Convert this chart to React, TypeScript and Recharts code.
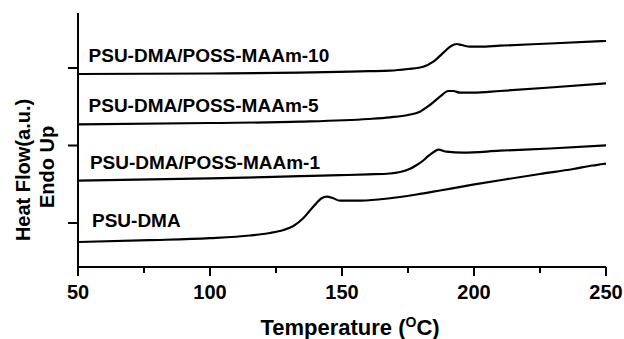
import { Label, Line, LineChart, ReferenceDot, XAxis, YAxis } from "recharts";

// temperatures in °C, heat flow in arbitrary units (endo up)
const psuDmaTemp = [50, 77, 100, 115.2, 122.7, 127.8, 131.6, 135.3, 139.1, 142.3, 144.2, 146.7, 149.2, 155.6, 163.8, 172, 178.3, 187.1, 199.6, 212.4, 225, 237.6, 245, 248.9, 250];
const psuDmaHeat = [25, 26.8, 28.8, 31.5, 34, 37, 41, 48.7, 60.3, 68.7, 70.3, 68.7, 66.3, 66.3, 67.5, 70, 72.5, 76.5, 82.3, 87.8, 93, 98, 101.5, 103, 103.5];

const maam1Temp = [50, 100, 134, 149.2, 160, 168.2, 172, 175.8, 178, 180.8, 182.6, 184.6, 186.5, 189.6, 195.9, 209.8, 228.8, 250];
const maam1Heat = [86.3, 88.6, 90.8, 91.8, 92.6, 93.5, 95, 98.3, 101.5, 106.5, 110.8, 114.8, 117.3, 115.3, 114.3, 116.3, 118.5, 121.7];

const maam5Temp = [50, 100, 134, 160, 168.2, 175, 179.5, 183.3, 187.1, 190.3, 192.2, 194.7, 199.7, 209.8, 228.8, 250];
const maam5Heat = [142.7, 144, 145.3, 148, 149.7, 152, 155.3, 162, 170.3, 176, 176, 174.3, 174.3, 176, 179.5, 183.7];

const maam10Temp = [50, 100, 134, 160, 168.2, 175, 180.8, 184.6, 188.4, 191.5, 193.4, 195.3, 198.5, 202.3, 209.8, 228.8, 250];
const maam10Heat = [193, 193.5, 194.3, 195.8, 196.3, 198, 200.3, 205.3, 214.3, 221.3, 223, 222, 220.3, 220.3, 221.3, 223.5, 226];

const seriesNames = ["PSU-DMA", "PSU-DMA/POSS-MAAm-1", "PSU-DMA/POSS-MAAm-5", "PSU-DMA/POSS-MAAm-10"];
const labelTemp = [55.3, 54.5, 54, 54];
const labelHeat = [40.3, 97.7, 155.3, 205.3];

const xTicks = [50, 75, 100, 125, 150, 175, 200, 225, 250];
const xLabelled = [50, 100, 150, 200, 250];
const yTicks = [44, 121.5, 199];

const font = "'Liberation Sans', Arial, sans-serif";

const toRows = (t: number[], h: number[]) => t.map((x, i) => ({ x, y: h[i] }));

const series = [
  toRows(psuDmaTemp, psuDmaHeat),
  toRows(maam1Temp, maam1Heat),
  toRows(maam5Temp, maam5Heat),
  toRows(maam10Temp, maam10Heat),
];

const curveLabel = (text: string) => (props: any) => {
  const vb = props.viewBox || {};
  const x = (vb.x ?? 0) + (vb.width ?? 0) / 2;
  const y = (vb.y ?? 0) + (vb.height ?? 0) / 2;
  return (
    <text x={x} y={y} fill="#000" fontSize={19} fontWeight="bold" fontFamily={font}>
      {text}
    </text>
  );
};

// major ticks labelled and 9px long, minor ticks 6px without label
const XTick = (props: any) => {
  const { x, y, payload } = props;
  const major = xLabelled.includes(payload.value);
  return (
    <g>
      <line x1={x} x2={x} y1={y} y2={y + (major ? 9 : 6)} stroke="#000" strokeWidth={2} />
      {major ? (
        <text x={x} y={y + 32} textAnchor="middle" fill="#000" fontSize={20} fontWeight="bold" fontFamily={font}>
          {payload.value}
        </text>
      ) : null}
    </g>
  );
};

const yTitle = () => (
  <g fontFamily={font} fontWeight="bold" fontSize={20} fill="#000">
    <text x={30} y={170} textAnchor="middle" transform="rotate(-90, 30, 170)">
      Heat Flow(a.u.)
    </text>
    <text x={54} y={167} textAnchor="middle" transform="rotate(-90, 54, 167)">
      Endo Up
    </text>
  </g>
);

const xTitle = () => (
  <text x={350} y={335} textAnchor="middle" fontFamily={font} fontWeight="bold" fontSize={22} fill="#000">
    <tspan>Temperature (</tspan>
    <tspan fontSize={14} dy={-8}>O</tspan>
    <tspan dy={8}>C)</tspan>
  </text>
);

export default function App() {
  return (
    <div style={{ position: "absolute", left: 0, top: 0, background: "#fff" }}>
      <LineChart width={624} height={339} margin={{ top: 13, right: 18, bottom: 0, left: 0 }}>
        <XAxis
          type="number"
          dataKey="x"
          domain={[50, 250]}
          ticks={xTicks}
          interval={0}
          height={72}
          tickSize={0}
          tickMargin={0}
          tickLine={false}
          stroke="#000"
          strokeWidth={2}
          tick={<XTick />}
          allowDataOverflow
        >
          <Label content={xTitle} />
        </XAxis>
        <YAxis
          type="number"
          domain={[0, 254]}
          ticks={yTicks}
          width={78}
          tickSize={10}
          stroke="#000"
          strokeWidth={2}
          tickFormatter={() => ""}
          allowDataOverflow
        >
          <Label content={yTitle} />
        </YAxis>
        {series.map((rows, i) => (
          <Line
            key={seriesNames[i]}
            data={rows}
            dataKey="y"
            type="monotone"
            stroke="#000"
            strokeWidth={2.2}
            dot={false}
            isAnimationActive={false}
          />
        ))}
        {seriesNames.map((name, i) => (
          <ReferenceDot
            key={`lbl-${name}`}
            x={labelTemp[i]}
            y={labelHeat[i]}
            r={1}
            fill="none"
            stroke="none"
            label={{ content: curveLabel(name) }}
          />
        ))}
      </LineChart>
    </div>
  );
}
